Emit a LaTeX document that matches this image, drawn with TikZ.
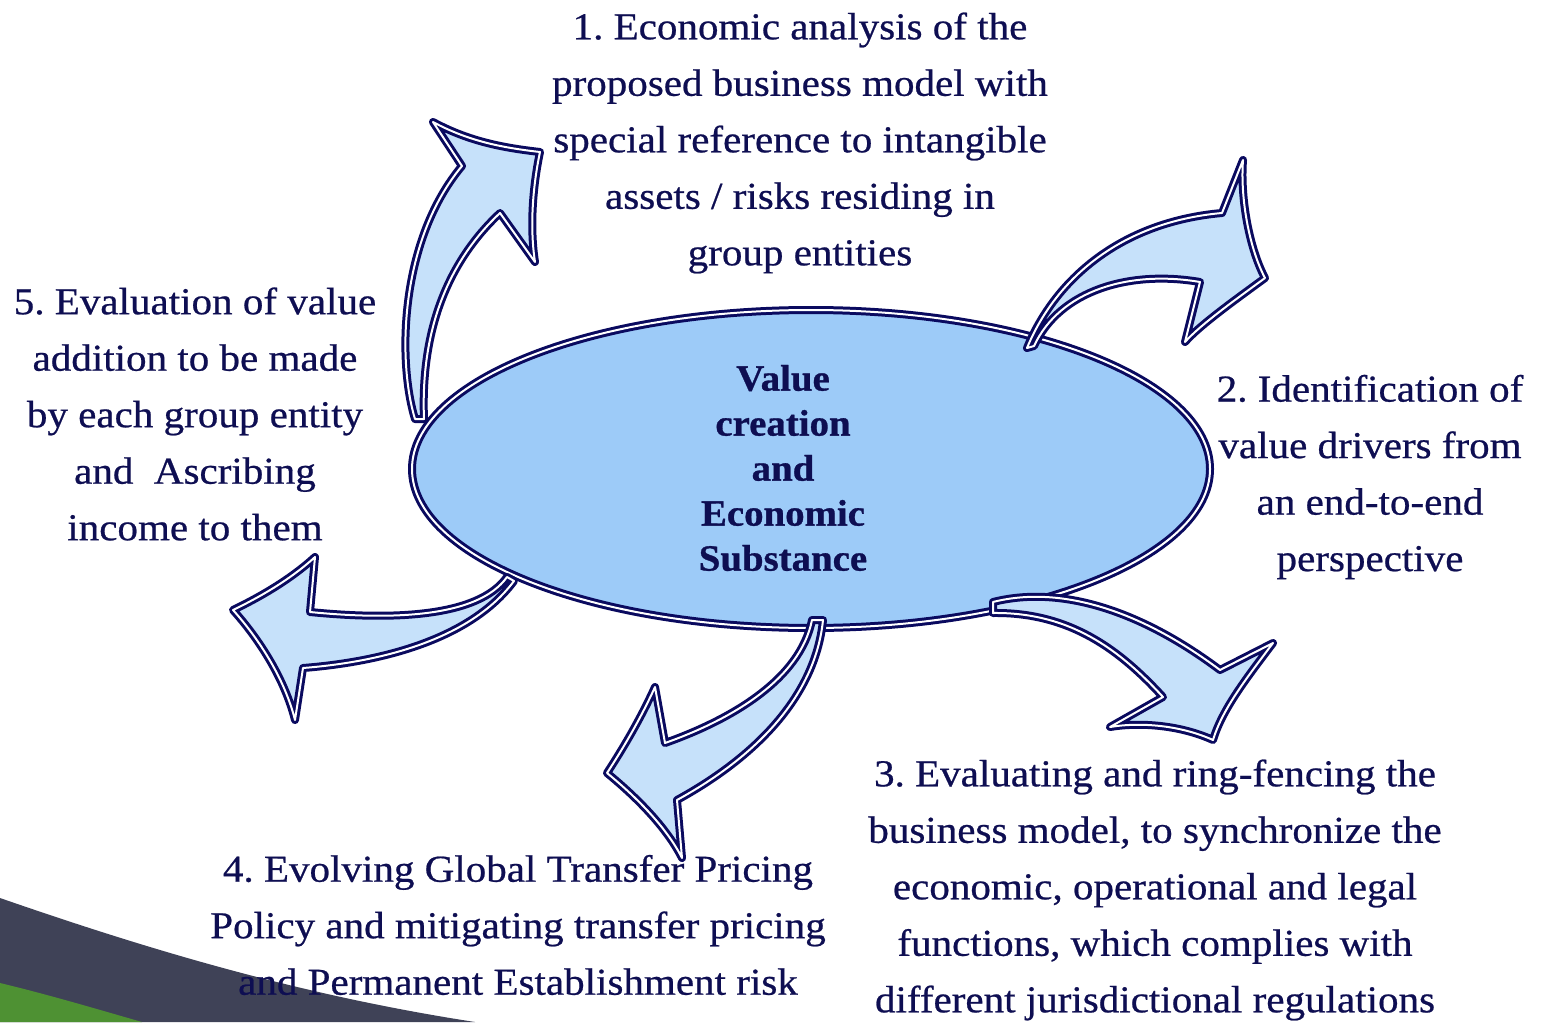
\documentclass[tikz,border=0pt]{standalone}
\usepackage{fontspec}
\usetikzlibrary{shapes.geometric}
\frenchspacing
\newfontfamily\geo[FakeStretch=1.08, FakeBold=0.6]{Liberation Serif}
\newfontfamily\geob[FakeStretch=1.05, FakeBold=0.8]{Liberation Serif}
\definecolor{textnavy}{RGB}{14,14,82}
\definecolor{linenavy}{RGB}{10,10,95}
\definecolor{ellfill}{RGB}{157,203,248}
\definecolor{arrfill}{RGB}{198,225,250}
\definecolor{swdark}{RGB}{63,66,87}
\definecolor{swgreen}{RGB}{78,145,51}
\tikzset{
  tripleline/.style={draw=linenavy, double=white, double distance=2pt, line width=3pt, line join=round, line cap=round},
  arrowshape/.style={tripleline, fill=arrfill},
  txt/.style={text=textnavy, align=center, inner sep=0pt, font=\geo\fontsize{38}{56.5}\selectfont},
  coretxt/.style={text=textnavy, align=center, inner sep=0pt, font=\geob\bfseries\fontsize{37}{45}\selectfont},
}
\begin{document}
\begin{tikzpicture}[x=1pt,y=-1pt]
\useasboundingbox (0,0) rectangle (1541,1022);
\fill[white] (0,0) rectangle (1541,1022);
% bottom-left swoosh
\fill[swdark] (0,898) .. controls (150,950) and (300,995) .. (475,1022) -- (0,1022) -- cycle;
\fill[swgreen] (0,983) .. controls (50,995) and (100,1010) .. (142,1022) -- (0,1022) -- cycle;
% central ellipse
\node[ellipse, tripleline, fill=ellfill, minimum width=798pt, minimum height=318pt, inner sep=0pt] (core) at (811,469) {};
\node[coretxt] (coretext) at (783,468) {Value\\creation\\and\\Economic\\Substance};
% arrow 1 (top left)
\path[arrowshape] (415,419) .. controls (397,360) and (400,240) .. (462,166) -- (433,122)
  .. controls (470,142) and (505,148) .. (540,152)
  .. controls (532,190) and (530,230) .. (535,262) -- (500,213)
  .. controls (455,255) and (420,320) .. (424,419) -- cycle;
% arrow 2 (top right)
\path[arrowshape] (1027,348) .. controls (1055,280) and (1120,222) .. (1222,213) -- (1243,160)
  .. controls (1240,200) and (1250,250) .. (1265,278)
  .. controls (1235,300) and (1200,325) .. (1185,342) -- (1200,282)
  .. controls (1130,270) and (1060,290) .. (1034,346) -- cycle;
% arrow 3 (bottom right)
\path[arrowshape] (993,602) .. controls (1060,585) and (1140,610) .. (1220,670) -- (1273,643)
  .. controls (1245,680) and (1222,710) .. (1213,740)
  .. controls (1180,725) and (1140,722) .. (1110,727) -- (1163,697)
  .. controls (1120,650) and (1070,612) .. (993,613) -- cycle;
% arrow 4 (bottom middle)
\path[arrowshape] (812,620) .. controls (800,680) and (730,720) .. (665,743) -- (655,687)
  .. controls (640,720) and (622,750) .. (607,773)
  .. controls (640,800) and (668,830) .. (682,858) -- (677,800)
  .. controls (750,760) and (815,700) .. (823,620) -- cycle;
% arrow 5 (bottom left)
\path[arrowshape] (507,577) .. controls (478,618) and (390,620) .. (310,612) -- (315,557)
  .. controls (290,580) and (258,598) .. (233,610)
  .. controls (260,640) and (285,680) .. (295,720) -- (303,668)
  .. controls (380,662) and (470,640) .. (514,581) -- cycle;
% texts
\node[txt] (t1) at (800,143) {1. Economic analysis of the\\proposed business model with\\special reference to intangible\\assets / risks residing in\\group entities};
\node[txt] (t2) at (1370,477) {2. Identification of\\value drivers from\\an end-to-end\\perspective};
\node[txt] (t3) at (1155,890) {3. Evaluating and ring-fencing the\\business model, to synchronize the\\economic, operational and legal\\functions, which complies with\\different jurisdictional regulations};
\node[txt] (t4) at (518,925) {4. Evolving Global Transfer Pricing\\Policy and mitigating transfer pricing\\and Permanent Establishment risk};
\node[txt] (t5) at (195,414) {5. Evaluation of value\\addition to be made\\by each group entity\\and~ Ascribing\\income to them};
\end{tikzpicture}
\end{document}
